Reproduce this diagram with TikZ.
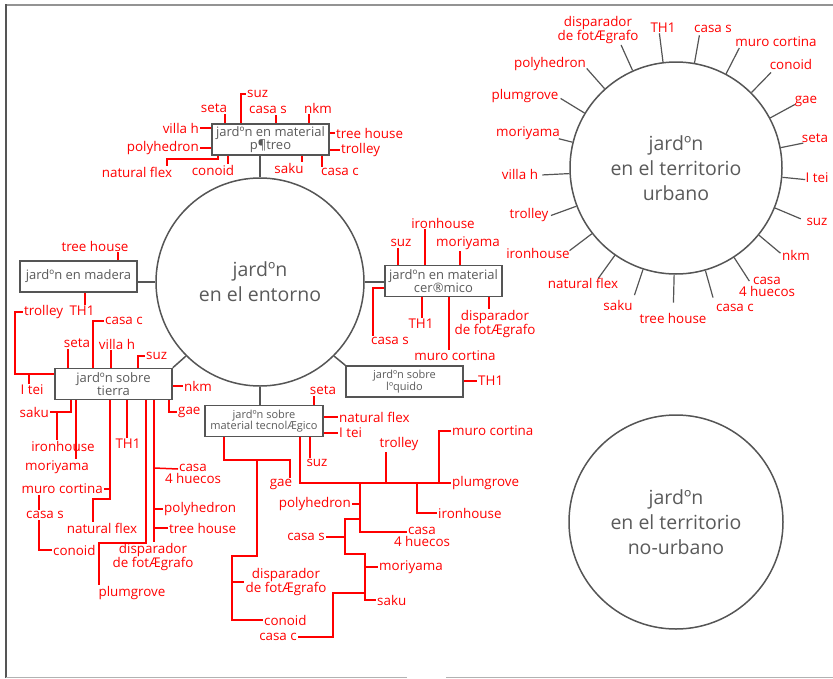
\documentclass[tikz,border=0pt]{standalone}
\usepackage{fontspec}
\setmainfont{Open Sans}
\usetikzlibrary{calc}
\definecolor{ink}{HTML}{555555}
\definecolor{txt}{HTML}{5A5A5A}
\definecolor{tag}{HTML}{FF0000}
\tikzset{
  hub/.style={circle, draw=ink, line width=1.5pt, inner sep=0pt, text=txt, align=center,
    font=\fontsize{19.5}{25}\selectfont},
  box/.style={rectangle, draw=ink, line width=1.5pt, minimum width=117pt, minimum height=31pt,
    inner sep=1pt, text=txt, align=center, font=\fontsize{13}{13}\selectfont},
  smallbox/.style={box, font=\fontsize{11}{11.5}\selectfont},
  link/.style={draw=ink, line width=1.5pt},
  spoke/.style={draw=ink, line width=1.2pt},
  lbl/.style={text=tag, inner sep=1pt, align=center, font=\fontsize{13.4}{12}\selectfont},
  wire/.style={draw=tag, line width=1.5pt},
}
\begin{document}
\begin{tikzpicture}[x=1pt,y=-1pt]
\useasboundingbox (0,0) rectangle (833,678);

% sheet frame
\draw[line width=2pt, draw=gray!85] (5,5) -- (833,5);
\draw[line width=2pt, draw=ink] (6,4) -- (6,678);
\draw[line width=1pt, draw=gray!60] (6,677) -- (407,677) (446,677) -- (833,677);

% central themes
\node[hub, minimum size=208pt] (E) at (260,282) {jardºn\\en el entorno};
\node[hub, minimum size=212pt] (U) at (676,168) {jardºn\\en el territorio\\urbano};
\node[hub, minimum size=214pt] (N) at (676,522) {jardºn\\en el territorio\\no-urbano};

% material boxes
\node[box] (P) at (270.5,139.5) {jardºn en material\\p¶treo};
\node[box] (M) at (78.5,276.5) {jardºn en madera};
\node[box] (T) at (113.5,384) {jardºn sobre\\tierra};
\node[box] (C) at (443.5,281) {jardºn en material\\cer®mico};
\node[smallbox] (L) at (404.5,381.5) {jardºn sobre\\lºquido};
\node[smallbox, minimum width=118pt] (X) at (264,421) {jardºn sobre\\material tecnolÆgico};

\draw[link] (E.north) -- (E.north |- P.south);
\draw[link] (E.west) -- (E.west -| M.east);
\draw[link] (E.east) -- (E.east -| C.west);
\draw[link] (E.south) -- (E.south |- X.north);
\draw[link] (E.225) -- (T.north east);
\draw[link] (E.-45) -- (L.north west);

% --- piedra
\node[lbl] (p1) at (214,108) {seta};
\node[lbl, anchor=west] (p2) at (246,94) {suz};
\node[lbl] (p3) at (268,110) {casa s};
\node[lbl] (p4) at (318,108) {nkm};
\node[lbl, anchor=east] (p5) at (200,128) {villa h};
\node[lbl, anchor=west] (p6) at (335,133) {tree house};
\node[lbl, anchor=east] (p7) at (200,148) {polyhedron};
\node[lbl, anchor=west] (p8) at (340,150) {trolley};
\node[lbl] (p9) at (137,172) {natural flex};
\node[lbl] (p10) at (213,170) {conoid};
\node[lbl] (p11) at (289,168) {saku};
\node[lbl] (p12) at (340,172) {casa c};
\draw[wire] (P.north -| 225,0) -- (p1.south -| 225,0);
\draw[wire] (P.north -| 241,0) |- (p2.west);
\draw[wire] (P.north -| 276,0) -- (p3.south -| 276,0);
\draw[wire] (P.north -| 309,0) -- (p4.south -| 309,0);
\draw[wire] (P.west |- p5.east) -- (p5.east);
\draw[wire] (P.east |- p6.west) -- (p6.west);
\draw[wire] (P.west |- p7.east) -- (p7.east);
\draw[wire] (P.east |- p8.west) -- (p8.west);
\draw[wire] (P.south -| 218,0) |- (167,159) -- (p9.north -| 167,0);
\draw[wire] (P.south -| 228,0) -- (p10.north -| 228,0);
\draw[wire] (P.south -| 302,0) -- (p11.north -| 302,0);
\draw[wire] (P.south -| 322,0) -- (p12.north -| 322,0);

% --- madera
\node[lbl] (m1) at (95,246) {tree house};
\node[lbl] (m2) at (82,311) {TH1};
\draw[wire] (M.north -| 118,0) -- (m1.south -| 118,0);
\draw[wire] (M.south -| 85,0) -- (m2.north -| 85,0);

% --- tierra
\node[lbl, anchor=west] (t1) at (23,312) {trolley};
\node[lbl] (t2) at (32,390) {I tei};
\node[lbl] (t3) at (77,343) {seta};
\node[lbl, anchor=west] (t4) at (104,321) {casa c};
\node[lbl] (t5) at (117,344) {villa h};
\node[lbl, anchor=west] (t6) at (145,356) {suz};
\node[lbl, anchor=west] (t7) at (183,386) {nkm};
\node[lbl, anchor=west] (t8) at (177,412) {gae};
\node[lbl, anchor=east] (t9) at (50,412) {saku};
\node[lbl] (t10) at (63,446) {ironhouse};
\node[lbl] (t11) at (57,467) {moriyama};
\node[lbl, anchor=east] (t12) at (104,489) {muro cortina};
\node[lbl] (t13) at (45,515) {casa s};
\node[lbl, anchor=west] (t14) at (52,550) {conoid};
\node[lbl] (t15) at (102,528) {natural flex};
\node[lbl] (t16) at (128,444) {TH1};
\node[lbl] (t17) at (132,593) {plumgrove};
\node[lbl] (t18) at (153,557) {disparador\\de fotÆgrafo};
\node[lbl, anchor=north] (t19) at (193,463) {casa\\4 huecos};
\node[lbl, anchor=west] (t20) at (163,509) {polyhedron};
\node[lbl, anchor=west] (t21) at (168,528) {tree house};
\draw[wire] (T.west |- 0,374) -| (15,312) -- (t1.west);
\draw[wire] (29,374) -- (t2.north -| 29,0);
\draw[wire] (T.north -| 68,0) -- (t3.south -| 68,0);
\draw[wire] (T.north -| 93,0) |- (t4.west);
\draw[wire] (T.north -| 111,0) -- (t5.south -| 111,0);
\draw[wire] (T.north -| 138,0) |- (t6.west);
\draw[wire] (T.east |- t7.west) -- (t7.west);
\draw[wire] (T.south -| 169,0) |- (t8.west);
\draw[wire] (T.south -| 71,0) |- (t9.east);
\draw[wire] (57,412) -- (t10.north -| 57,0);
\draw[wire] (T.south -| 76,0) -- (t11.north -| 76,0);
\draw[wire] (T.south -| 110,0) -- (110,499) -| (t15.north -| 93,0);
\draw[wire] (110,489) -- (t12.east);
\draw[wire] (t12.south -| 39,0) -- (t13.north -| 39,0);
\draw[wire] (t13.south -| 39,0) |- (t14.west);
\draw[wire] (T.south -| 127,0) -- (t16.north -| 127,0);
\draw[wire] (T.south -| 146,0) -- (146,543) -| (t17.north -| 99,0);
\draw[wire] (T.south -| 154,0) -- (t18.north -| 154,0);
\draw[wire] (154,468) -- ($(t19.north)+(-15,6)$);
\draw[wire] (154,509) -- (t20.west);
\draw[wire] (154,528) -- (t21.west);

% --- ceramica
\node[lbl] (c1) at (401,243) {suz};
\node[lbl] (c2) at (443,223) {ironhouse};
\node[lbl] (c3) at (468,243) {moriyama};
\node[lbl] (c4) at (390,341) {casa s};
\node[lbl] (c5) at (421,324) {TH1};
\node[lbl] (c6) at (455,356) {muro cortina};
\node[lbl] (c7) at (495,324) {disparador\\de fotÆgrafo};
\draw[wire] (C.north -| 398,0) -- (c1.south -| 398,0);
\draw[wire] (C.north -| 425,0) -- (c2.south -| 425,0);
\draw[wire] (C.north -| 460,0) -- (c3.south -| 460,0);
\draw[wire] (C.west |- 0,288) -| (c4.north -| 373,0);
\draw[wire] (C.south -| 422,0) -- (c5.north -| 422,0);
\draw[wire] (C.south -| 449,0) -- (c6.north -| 449,0);
\draw[wire] (C.south -| 489,0) -- (c7.north -| 489,0);

% --- liquido
\node[lbl, anchor=west] (l1) at (477,381) {TH1};
\draw[wire] (L.east |- l1.west) -- (l1.west);

% --- material tecnologico
\node[lbl] (x1) at (323,390) {seta};
\node[lbl, anchor=west] (x2) at (338,417) {natural flex};
\node[lbl, anchor=west] (x3) at (338,433) {I tei};
\node[lbl] (x4) at (317,463) {suz};
\node[lbl] (x5) at (281,484) {gae};
\node[lbl] (x6) at (286,582) {disparador\\de fotÆgrafo};
\node[lbl, anchor=west] (x7) at (263,620) {conoid};
\node[lbl, anchor=west] (x8) at (451,483) {plumgrove};
\node[lbl] (x9) at (399,444) {trolley};
\node[lbl, anchor=west] (x10) at (451,431) {muro cortina};
\node[lbl, anchor=west] (x11) at (437,513) {ironhouse};
\node[lbl, anchor=north] (x12) at (422,526) {casa\\4 huecos};
\node[lbl, anchor=east] (x13) at (352,504) {polyhedron};
\node[lbl, anchor=east] (x14) at (326,537) {casa s};
\node[lbl, anchor=west] (x15) at (378,567) {moriyama};
\node[lbl, anchor=west] (x16) at (376,600) {saku};
\node[lbl, anchor=east] (x17) at (298,637) {casa c};
\draw[wire] (X.north -| 314,0) -- (x1.south -| 314,0);
\draw[wire] (X.east |- x2.west) -- (x2.west);
\draw[wire] (X.east |- x3.west) -- (x3.west);
\draw[wire] (X.south -| 310,0) -- (x4.north -| 310,0);
\draw[wire] (X.south -| 224,0) |- (290,460) -- (x5.north -| 290,0);
\draw[wire] (257,460) -- (257,556) -| (232,620) -- (x7.west);
\draw[wire] (232,582) -- (x6.west);
\draw[wire] (X.south -| 300,0) |- (x8.west);
\draw[wire] (386,483) -- (x9.south -| 386,0);
\draw[wire] (439,483) |- (x10.west);
\draw[wire] (417,483) |- (x11.west);
\draw[wire] (360,483) |- ($(x12.north)+(-15,6)$);
\draw[wire] (360,504) -- (x13.east);
\draw[wire] (360,519) -| (345,554) -| (365,600) -- (x16.west);
\draw[wire] (x14.east) -- (345,537);
\draw[wire] (365,567) -- (x15.west);
\draw[wire] (365,593) -| (333,637) -- (x17.east);

% --- territorio urbano
\node[lbl] (u0) at (598,30) {disparador\\de fotÆgrafo};
\node[lbl] (u1) at (663,28) {TH1};
\node[lbl] (u2) at (713,29) {casa s};
\node[lbl] (u3) at (776,42) {muro cortina};
\node[lbl] (u4) at (791,64) {conoid};
\node[lbl] (u5) at (806,101) {gae};
\node[lbl] (u6) at (815,138) {seta};
\node[lbl] (u7) at (817,178) {I tei};
\node[lbl] (u8) at (817,222) {suz};
\node[lbl] (u9) at (796,255) {nkm};
\node[lbl] (u10) at (767,287) {casa\\4 huecos};
\node[lbl] (u11) at (735,308) {casa c};
\node[lbl] (u12) at (673,318) {tree house};
\node[lbl] (u13) at (618,305) {saku};
\node[lbl] (u14) at (583,283) {natural flex};
\node[lbl] (u15) at (538,253) {ironhouse};
\node[lbl] (u16) at (529,215) {trolley};
\node[lbl] (u17) at (520,174) {villa h};
\node[lbl] (u18) at (528,133) {moriyama};
\node[lbl] (u19) at (525,96) {plumgrove};
\node[lbl] (u20) at (550,64) {polyhedron};
\foreach \k/\len in {0/28,1/29,2/28,3/29,4/28,5/28,6/23,7/23,8/28,9/28,10/28,
                     11/28,12/28,13/27,14/28,15/28,16/27,17/27,18/14,19/28,20/27}{
  \pgfmathsetmacro\ang{114.3-17.143*\k}
  \draw[spoke] (U.\ang) -- ++(\ang:\len pt);
}
\end{tikzpicture}
\end{document}
